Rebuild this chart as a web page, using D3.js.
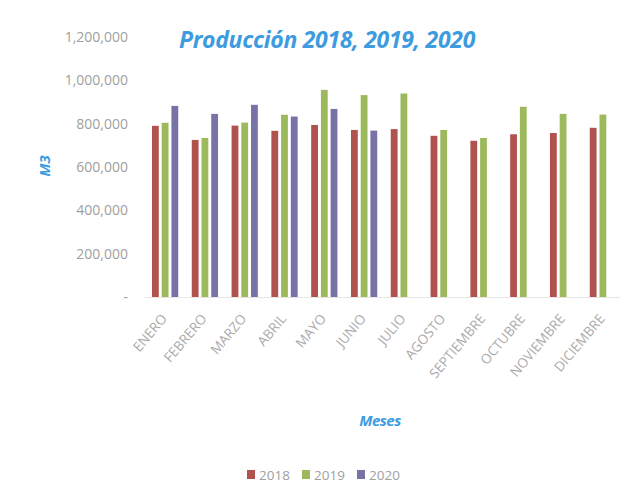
<!DOCTYPE html>
<html>
<head>
<meta charset="utf-8">
<script src="https://cdn.jsdelivr.net/npm/d3@7"></script>
<style>
  body { margin: 0; background: #fff; }
  svg { display: block; }
</style>
</head>
<body>
<script>
"use strict";

var meses = ["ENERO", "FEBRERO", "MARZO", "ABRIL", "MAYO", "JUNIO", "JULIO",
	"AGOSTO", "SEPTIEMBRE", "OCTUBRE", "NOVIEMBRE", "DICIEMBRE"];
var anios = ["2018", "2019", "2020"];
var prod2018 = [790000, 725000, 791000, 767000, 794000, 771000, 775000, 744000, 721000, 751000, 757000, 781000];
var prod2019 = [804000, 734000, 805000, 841000, 956000, 932000, 939000, 771000, 734000, 878000, 845000, 842000];
var prod2020 = [882000, 845000, 887000, 833000, 868000, 768000, null, null, null, null, null, null];
var yTicks = [0, 200000, 400000, 600000, 800000, 1000000, 1200000];

var series = [prod2018, prod2019, prod2020];
var colores = ["#b0534f", "#9cba5c", "#7773a6"];

var width = 630, height = 484;
var margin = {left: 148, right: 10, top: 37, bottom: 187};

var svg = d3.select("body").append("svg")
	.attr("width", width)
	.attr("height", height);

var x0 = d3.scaleBand()
	.domain(meses)
	.range([margin.left, width - margin.right])
	.paddingInner(0.34)
	.paddingOuter(0.1);

var x1 = d3.scaleBand()
	.domain(anios)
	.range([0, x0.bandwidth()])
	.paddingInner(0.3);

var y = d3.scaleLinear()
	.domain([0, 1200000])
	.range([height - margin.bottom, margin.top]);

// y axis labels
var yAxis = d3.axisLeft(y)
	.tickValues(yTicks)
	.tickSize(0)
	.tickPadding(0)
	.tickFormat(function (d) { return d === 0 ? "-" : d3.format(",")(d); });

var gy = svg.append("g")
	.attr("transform", "translate(128,0)")
	.call(yAxis);
gy.select(".domain").remove();
gy.selectAll("text")
	.attr("fill", "#a0a0a0")
	.style("font-family", "'Open Sans', sans-serif")
	.style("font-size", "14px");

// bars
var grupos = svg.append("g").selectAll("g")
	.data(meses)
	.enter().append("g")
	.attr("transform", function (d) { return "translate(" + x0(d) + ",0)"; });

grupos.selectAll("rect")
	.data(function (d, i) {
		return anios.map(function (a, k) { return {anio: a, k: k, v: series[k][i]}; })
			.filter(function (o) { return o.v !== null; });
	})
	.enter().append("rect")
	.attr("x", function (d) { return x1(d.anio); })
	.attr("y", function (d) { return y(d.v); })
	.attr("width", x1.bandwidth())
	.attr("height", function (d) { return y(0) - y(d.v); })
	.attr("fill", function (d) { return colores[d.k]; });

// baseline
svg.append("line")
	.attr("x1", margin.left - 3).attr("x2", width - margin.right)
	.attr("y1", y(0) + 0.5).attr("y2", y(0) + 0.5)
	.attr("stroke", "#e6e6e6");

// x labels
var gx = svg.append("g");
gx.selectAll("text")
	.data(meses)
	.enter().append("text")
	.attr("transform", function (d) {
		return "translate(" + (x0(d) + x0.bandwidth() / 2 - 1) + "," + (y(0) + 19) + ") rotate(-50)";
	})
	.attr("text-anchor", "end")
	.attr("dy", "0.35em")
	.attr("fill", "#aaaaaa")
	.style("font-family", "'Open Sans', sans-serif")
	.style("font-size", "13.5px")
	.text(function (d) { return d; });

// title
svg.append("text")
	.attr("x", 327).attr("y", 48)
	.attr("text-anchor", "middle")
	.attr("fill", "#3d9be0")
	.style("font-family", "'Open Sans', sans-serif")
	.style("font-weight", "bold")
	.style("font-style", "italic")
	.style("font-size", "23px")
	.style("letter-spacing", "-0.3px")
	.text("Producción 2018, 2019, 2020");

// axis titles
svg.append("text")
	.attr("transform", "translate(50,166) rotate(-90)")
	.attr("text-anchor", "middle")
	.attr("fill", "#3d9be0")
	.style("font-family", "'Open Sans', sans-serif")
	.style("font-weight", "bold")
	.style("font-style", "italic")
	.style("font-size", "15px")
	.text("M3");

svg.append("text")
	.attr("x", 380).attr("y", 426)
	.attr("text-anchor", "middle")
	.attr("fill", "#3d9be0")
	.style("font-family", "'Open Sans', sans-serif")
	.style("font-weight", "bold")
	.style("font-style", "italic")
	.style("font-size", "15px")
	.style("letter-spacing", "-0.5px")
	.text("Meses");

// legend
var leyenda = svg.append("g").selectAll("g")
	.data(anios)
	.enter().append("g")
	.attr("transform", function (d, i) { return "translate(" + (247 + i * 55) + ",470)"; });

leyenda.append("rect")
	.attr("width", 8).attr("height", 9)
	.attr("fill", function (d, i) { return colores[i]; });

leyenda.append("text")
	.attr("x", 12).attr("y", 9.5)
	.attr("fill", "#a0a0a0")
	.style("font-family", "'Open Sans', sans-serif")
	.style("font-size", "13.5px")
	.text(function (d) { return d; });
</script>
</body>
</html>
